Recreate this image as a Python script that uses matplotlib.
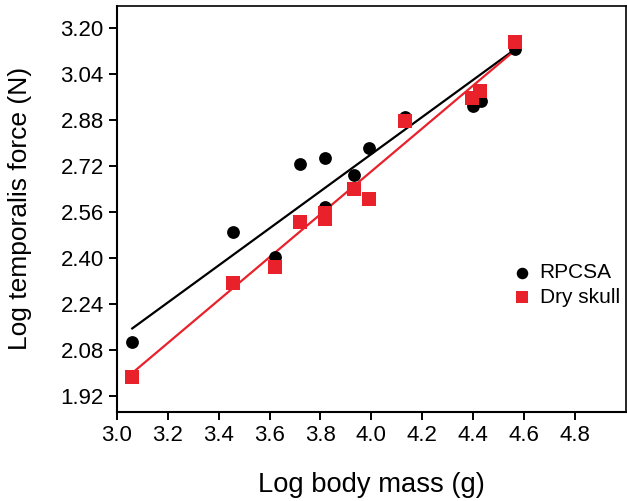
import matplotlib
matplotlib.use("Agg")
import matplotlib.pyplot as plt
import numpy as np

plt.rcParams['font.family'] = ['Liberation Sans', 'DejaVu Sans']

# Data
body_mass = [3.058, 3.456, 3.622, 3.718, 3.816, 3.816, 3.93, 3.99, 4.133, 4.401, 4.43, 4.565]
rpcsa = [2.106, 2.489, 2.401, 2.725, 2.748, 2.575, 2.688, 2.783, 2.89, 2.928, 2.945, 3.125]
dry_mass = [3.058, 3.456, 3.622, 3.718, 3.816, 3.816, 3.93, 3.99, 4.133, 4.397, 4.427, 4.565]
dry_skull = [1.986, 2.311, 2.369, 2.525, 2.555, 2.535, 2.639, 2.603, 2.877, 2.954, 2.981, 3.152]

# Regression line end points
fit_x = [3.06, 4.565]
rpcsa_fit = [2.154, 3.125]
dry_fit = [1.999, 3.122]

x_ticks = [3.0, 3.2, 3.4, 3.6, 3.8, 4.0, 4.2, 4.4, 4.6, 4.8]
y_ticks = [1.92, 2.08, 2.24, 2.40, 2.56, 2.72, 2.88, 3.04, 3.20]

red = '#E8212B'

fig = plt.figure(figsize=(6.27, 5.01), dpi=100)
ax = fig.add_axes([0.1866, 0.1786, 0.8114, 0.8094])

ax.plot(fit_x, rpcsa_fit, color='black', lw=1.6, zorder=2)
ax.plot(fit_x, dry_fit, color=red, lw=1.6, zorder=2)
h1 = ax.scatter(body_mass, rpcsa, s=85, marker='o', color='black', linewidths=0, zorder=3, label='RPCSA')
h2 = ax.scatter(dry_mass, dry_skull, s=100, marker='s', color=red, linewidths=0, zorder=4, label='Dry skull')

ax.set_xlim(3.0, 5.0)
ax.set_ylim(1.865, 3.2755)
ax.set_xticks(x_ticks)
ax.set_xticklabels([f'{v:.1f}' for v in x_ticks])
ax.set_yticks(y_ticks)
ax.set_yticklabels([f'{v:.2f}' for v in y_ticks])

ax.tick_params(direction='out', length=6, width=1.4, labelsize=16, pad=3.5, color='black')
for side in ['left', 'bottom']:
    ax.spines[side].set_linewidth(1.5)
for side in ['top', 'right']:
    ax.spines[side].set_linewidth(1.2)

ax.set_xlabel('Log body mass (g)', fontsize=19.7)
ax.set_ylabel('Log temporalis force (N)', fontsize=19)
ax.xaxis.set_label_coords(0.5, -0.149)
ax.yaxis.set_label_coords(-0.167, 0.5)

leg = ax.legend(handles=[h1, h2], loc='center left', bbox_to_anchor=(0.779, 0.312),
                frameon=False, fontsize=15, handlelength=0.8, handletextpad=0.46,
                labelspacing=0.28, borderpad=0, borderaxespad=0, markerscale=0.9)

fig.savefig('out.png', dpi=100)
